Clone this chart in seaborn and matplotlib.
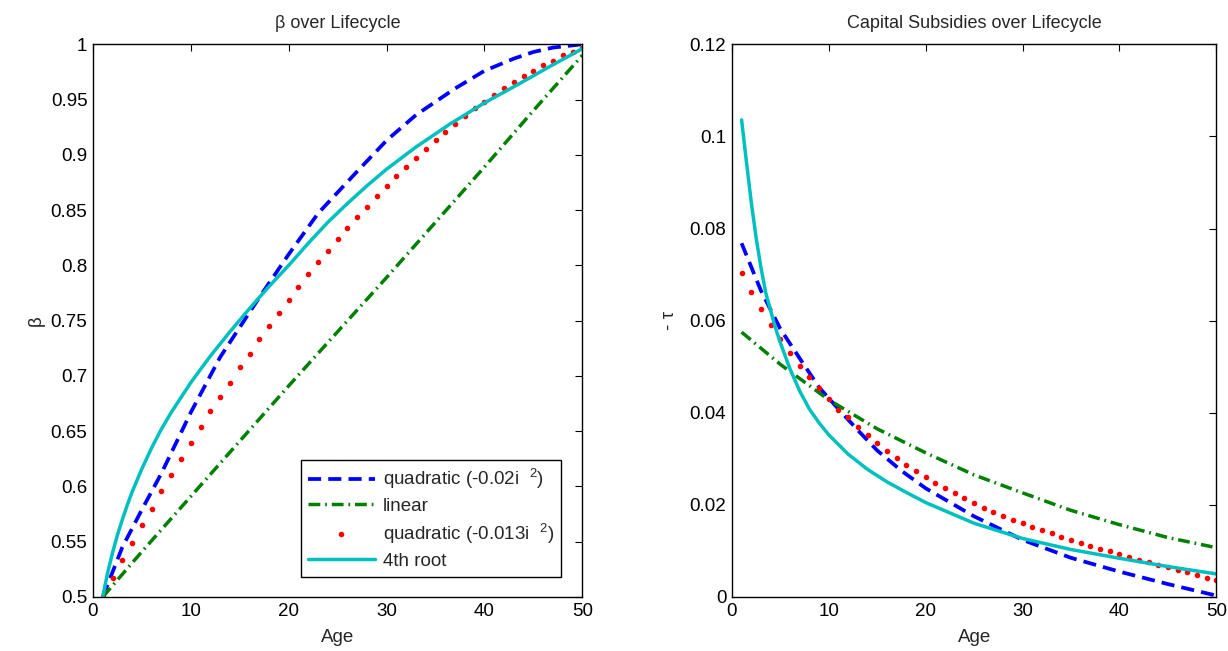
import numpy as np
import pandas as pd
import seaborn as sns
import matplotlib.pyplot as plt

# ages for the point-by-point (dotted) series
ages = list(range(1, 51))

# ---- left panel: beta over lifecycle
quad02_age = [1, 3, 5, 7, 10, 13, 15, 17, 20, 23, 25, 27, 30, 33, 35, 37, 40, 43, 45, 47, 50]
quad02_beta = [0.5, 0.545, 0.579, 0.612, 0.667, 0.717, 0.744, 0.771, 0.81, 0.847, 0.866,
               0.885, 0.913, 0.936, 0.948, 0.96, 0.976, 0.987, 0.993, 0.997, 1.0]

linear_age = [1, 5, 10, 15, 20, 25, 30, 35, 40, 45, 50]
linear_beta = [0.5, 0.541, 0.591, 0.641, 0.691, 0.74, 0.789, 0.839, 0.889, 0.94, 0.99]

quad013_beta = [0.5, 0.517, 0.533, 0.549, 0.565, 0.58, 0.596, 0.61, 0.625, 0.639,
                0.654, 0.668, 0.681, 0.694, 0.708, 0.72, 0.733, 0.745, 0.757, 0.769,
                0.78, 0.792, 0.803, 0.813, 0.824, 0.834, 0.844, 0.853, 0.863, 0.872,
                0.881, 0.889, 0.897, 0.905, 0.913, 0.921, 0.928, 0.935, 0.942, 0.948,
                0.954, 0.96, 0.966, 0.971, 0.976, 0.981, 0.985, 0.99, 0.993, 0.997]

root4_age = [1, 1.5, 2, 2.5, 3, 3.5, 4, 5, 6, 7, 8, 10, 12, 14, 16, 18, 20, 22, 24, 26,
             28, 30, 33, 36.5, 40, 43.3, 46.7, 50]
root4_beta = [0.5, 0.522, 0.54, 0.556, 0.57, 0.583, 0.595, 0.616, 0.635, 0.652, 0.667,
              0.694, 0.718, 0.74, 0.761, 0.781, 0.8, 0.82, 0.839, 0.856, 0.872, 0.887,
              0.907, 0.928, 0.947, 0.963, 0.98, 0.996]

# ---- right panel: capital subsidies (-tau)
quad02_tau_age = [1, 3, 5, 7, 9, 11, 13, 15, 17.5, 20, 25, 30, 35, 40, 45, 50]
quad02_tau = [0.0768, 0.0665, 0.0582, 0.0518, 0.0455, 0.0408, 0.0362, 0.0318, 0.0274, 0.0236,
              0.0175, 0.0124, 0.0085, 0.0055, 0.0028, 0.0003]

linear_tau_age = [1, 5, 10, 15, 20, 25, 30, 35, 40, 45, 50]
linear_tau = [0.0575, 0.0505, 0.0428, 0.0365, 0.0313, 0.0265, 0.0226, 0.0188, 0.0157, 0.0129, 0.0107]

quad013_tau = [0.0703, 0.0663, 0.0626, 0.0591, 0.0561, 0.053, 0.0502, 0.0477, 0.0454, 0.0429,
               0.0407, 0.039, 0.037, 0.0351, 0.0334, 0.0317, 0.0302, 0.0287, 0.0273, 0.026,
               0.0248, 0.0236, 0.0225, 0.0214, 0.0204, 0.0194, 0.0185, 0.0176, 0.0168, 0.016,
               0.0152, 0.0145, 0.0138, 0.0131, 0.0124, 0.0118, 0.0111, 0.0105, 0.0099, 0.0093,
               0.0087, 0.0081, 0.0076, 0.007, 0.0065, 0.0059, 0.0054, 0.0048, 0.0042, 0.0036]

root4_tau_age = [1, 1.5, 2, 2.5, 3, 3.5, 4, 4.5, 5, 6, 7, 8, 9, 10, 12, 14, 16, 18, 20,
                 25, 30, 35, 40, 45, 50]
root4_tau = [0.1036, 0.0945, 0.0857, 0.078, 0.0715, 0.066, 0.0622, 0.0584, 0.0552, 0.0495,
             0.0447, 0.0408, 0.0378, 0.0352, 0.031, 0.0277, 0.025, 0.0227, 0.0205, 0.016,
             0.0127, 0.0103, 0.0084, 0.0066, 0.005]

labels = [r"quadratic (-0.02i  $^{2}$)", "linear", r"quadratic (-0.013i  $^{2}$)", "4th root"]
blue, green, red, cyan = "#0000FF", "#008000", "#FF0000", "#00BFBF"

sns.set_style("white")
plt.rcParams["font.family"] = ["Liberation Sans", "DejaVu Sans"]
plt.rcParams["mathtext.fontset"] = "custom"
plt.rcParams["mathtext.rm"] = "Liberation Sans"

fig = plt.figure(figsize=(12.28, 6.51), dpi=100)
ax1 = fig.add_axes([0.0757, 0.083, 0.3985, 0.849])
ax2 = fig.add_axes([0.596, 0.083, 0.3945, 0.849])


def draw(ax, xq, yq, xl, yl, yd, xr, yr):
    sns.lineplot(x=xq, y=yq, ax=ax, color=blue, lw=2.7, dashes=(3.5, 1.9), label=labels[0])
    sns.lineplot(x=xl, y=yl, ax=ax, color=green, lw=2.5, label=labels[1],
                 dashes=(3.4, 1.4, 0.5, 1.4))
    ax.plot(ages, yd, linestyle="none", marker="o", ms=3.0, color=red, mec=red, label=labels[2])
    sns.lineplot(x=xr, y=yr, ax=ax, color=cyan, lw=2.5, label=labels[3])


draw(ax1, quad02_age, quad02_beta, linear_age, linear_beta, quad013_beta, root4_age, root4_beta)
draw(ax2, quad02_tau_age, quad02_tau, linear_tau_age, linear_tau, quad013_tau, root4_tau_age, root4_tau)

ax1.set_xlim(0, 50)
ax1.set_ylim(0.5, 1)
ax1.set_yticks(np.arange(0.5, 1.001, 0.05))
ax1.set_yticklabels(["0.5", "0.55", "0.6", "0.65", "0.7", "0.75", "0.8", "0.85", "0.9", "0.95", "1"])
ax1.set_title("β over Lifecycle", fontsize=13, pad=12)
ax1.set_ylabel("β", fontsize=13.5, labelpad=4)

ax2.set_xlim(0, 50)
ax2.set_ylim(0, 0.12)
ax2.set_yticks(np.arange(0, 0.121, 0.02))
ax2.set_yticklabels(["0", "0.02", "0.04", "0.06", "0.08", "0.1", "0.12"])
ax2.set_title("Capital Subsidies over Lifecycle", fontsize=13, pad=12)
ax2.set_ylabel("- τ", fontsize=13.5, labelpad=8)

for ax in (ax1, ax2):
    ax.set_xticks([0, 10, 20, 30, 40, 50])
    ax.set_xlabel("Age", fontsize=13.5, labelpad=7)
    ax.tick_params(direction="in", length=5, width=0.8, top=True, right=True,
                   labelsize=13.5, colors="black", pad=4)
    for s in ax.spines.values():
        s.set_color("black")
        s.set_linewidth(1.0)

ax2.get_legend().remove()
leg = ax1.legend(loc="lower right", fontsize=13.5, frameon=True, fancybox=False,
                 edgecolor="black", framealpha=1, handlelength=3.6, borderpad=0.35,
                 labelspacing=0.35, handletextpad=0.4, bbox_to_anchor=(0.975, 0.02))
leg.get_frame().set_linewidth(1.0)

fig.savefig("out.png", dpi=100)
